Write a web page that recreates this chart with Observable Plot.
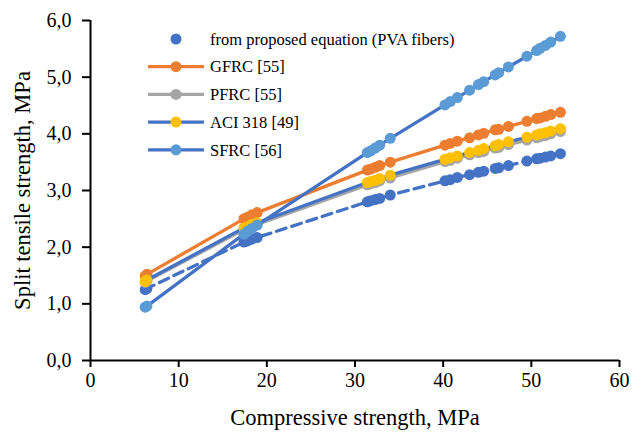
<!DOCTYPE html>
<html>
<head>
<meta charset="utf-8">
<script src="https://cdn.jsdelivr.net/npm/d3@7"></script>
<script src="https://cdn.jsdelivr.net/npm/@observablehq/plot@0.6"></script>
<style>
  html, body { margin: 0; padding: 0; background: #fff; }
  #chart svg { display: block; }
</style>
</head>
<body>
<div id="chart"></div>
<script>
// Compressive strength values (MPa), shared by all series
const fc = [6.2, 6.4, 17.4, 17.8, 18.3, 18.9, 31.4, 31.8, 32.3, 32.8, 34.0,
            40.2, 40.8, 41.6, 43.0, 44.0, 44.6, 45.9, 46.3, 47.4, 49.5, 50.6, 51.0, 51.6, 52.2, 53.3];

// Split tensile strength (MPa)
const proposedPVA = [1.25, 1.27, 2.09, 2.11, 2.14, 2.17, 2.80, 2.82, 2.84, 2.86, 2.92,
                     3.17, 3.19, 3.23, 3.28, 3.32, 3.34, 3.39, 3.40, 3.44, 3.52, 3.56, 3.57, 3.59, 3.61, 3.65];
const gfrc = [1.49, 1.52, 2.50, 2.53, 2.57, 2.61, 3.36, 3.38, 3.41, 3.44, 3.50,
              3.80, 3.83, 3.87, 3.93, 3.98, 4.01, 4.07, 4.08, 4.13, 4.22, 4.27, 4.28, 4.31, 4.34, 4.38];
const pfrc = [1.38, 1.40, 2.31, 2.33, 2.37, 2.40, 3.10, 3.12, 3.14, 3.17, 3.22,
              3.51, 3.53, 3.57, 3.63, 3.67, 3.69, 3.75, 3.76, 3.81, 3.89, 3.93, 3.95, 3.97, 4.00, 4.04];
const aci318 = [1.39, 1.42, 2.34, 2.36, 2.40, 2.43, 3.14, 3.16, 3.18, 3.21, 3.27,
                3.55, 3.58, 3.61, 3.67, 3.71, 3.74, 3.79, 3.81, 3.86, 3.94, 3.98, 4.00, 4.02, 4.05, 4.09];
const sfrc = [0.94, 0.96, 2.23, 2.28, 2.33, 2.39, 3.67, 3.70, 3.75, 3.80, 3.92,
              4.51, 4.57, 4.64, 4.77, 4.87, 4.92, 5.04, 5.08, 5.18, 5.37, 5.47, 5.51, 5.56, 5.62, 5.72];

const seriesNames = ["from proposed equation (PVA fibers)", "GFRC [55]", "PFRC [55]", "ACI 318 [49]", "SFRC [56]"];
const xTicks = [0, 10, 20, 30, 40, 50, 60];
const yTicks = [0, 1, 2, 3, 4, 5, 6];
const xTitle = "Compressive strength, MPa";
const yTitle = "Split tensile strength, MPa";

const BLUE = "#4472C4", ORANGE = "#ED7D31", GRAY = "#A5A5A5", YELLOW = "#FFC000", LIGHTBLUE = "#5B9BD5";
const FONT = "'Liberation Serif', 'Times New Roman', serif";

const rows = vals => fc.map((x, i) => ({x, y: vals[i]}));
const dProp = rows(proposedPVA), dG = rows(gfrc), dP = rows(pfrc), dA = rows(aci318), dS = rows(sfrc);

const R = 5.5, SW = 3.3;
const fmt = d => d.toFixed(1).replace(".", ",");

const plot = Plot.plot({
  width: 634,
  height: 432,
  marginLeft: 90,
  marginRight: 15,
  marginTop: 20,
  marginBottom: 72,
  x: {domain: [0, 60]},
  y: {domain: [0, 6]},
  style: {fontFamily: FONT, color: "black", background: "white"},
  marks: [
    Plot.line(dProp, {x: "x", y: "y", stroke: BLUE, strokeWidth: SW, strokeDasharray: "10,6"}),
    Plot.dot(dProp, {x: "x", y: "y", r: R, fill: BLUE}),
    Plot.line(dG, {x: "x", y: "y", stroke: ORANGE, strokeWidth: SW}),
    Plot.dot(dG, {x: "x", y: "y", r: R, fill: ORANGE}),
    Plot.line(dP, {x: "x", y: "y", stroke: GRAY, strokeWidth: SW}),
    Plot.dot(dP, {x: "x", y: "y", r: R, fill: GRAY}),
    Plot.line(dA, {x: "x", y: "y", stroke: BLUE, strokeWidth: SW}),
    Plot.dot(dA, {x: "x", y: "y", r: R, fill: YELLOW}),
    Plot.line(dS, {x: "x", y: "y", stroke: BLUE, strokeWidth: SW}),
    Plot.dot(dS, {x: "x", y: "y", r: R, fill: LIGHTBLUE}),
    Plot.axisX({ticks: xTicks, tickSize: 7, tickPadding: 5, fontSize: 20, label: null, strokeWidth: 2}),
    Plot.axisY({ticks: yTicks, tickSize: 8, tickPadding: 11, fontSize: 20, label: null, strokeWidth: 2, tickFormat: fmt}),
    Plot.ruleX([0], {stroke: "black", strokeWidth: 2}),
    Plot.ruleY([0], {stroke: "black", strokeWidth: 2}),
    Plot.text([xTitle], {frameAnchor: "bottom", dy: 64, fontSize: 22.5, fill: "black"}),
    Plot.text([yTitle], {frameAnchor: "left", dx: -68, rotate: -90, textAnchor: "middle", fontSize: 22.5, fill: "black"})
  ]
});

// Legend (inside plot area, top-left)
const svg = d3.select(plot);
const legendItems = [
  {name: seriesNames[0], line: null, fill: BLUE},
  {name: seriesNames[1], line: ORANGE, fill: ORANGE},
  {name: seriesNames[2], line: GRAY, fill: GRAY},
  {name: seriesNames[3], line: BLUE, fill: YELLOW},
  {name: seriesNames[4], line: BLUE, fill: LIGHTBLUE}
];
const lg = svg.append("g")
  .attr("font-family", FONT)
  .attr("font-size", 16.5)
  .attr("text-anchor", "start");
legendItems.forEach((it, i) => {
  const cy = 39 + i * 27.7;
  const g = lg.append("g").attr("transform", `translate(0,${cy})`);
  if (it.line) g.append("line").attr("x1", 148).attr("x2", 204).attr("y1", 0).attr("y2", 0)
    .attr("stroke", it.line).attr("stroke-width", SW);
  g.append("circle").attr("cx", 176).attr("cy", 0).attr("r", R).attr("fill", it.fill);
  g.append("text").attr("x", 210).attr("y", 0).attr("dy", "0.35em")
    .attr("text-anchor", "start").attr("fill", "black").text(it.name);
});

document.getElementById("chart").appendChild(plot);
</script>
</body>
</html>
